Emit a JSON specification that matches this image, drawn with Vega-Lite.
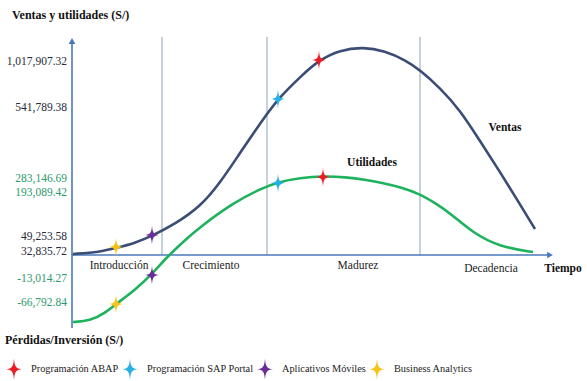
{
  "$schema": "https://vega.github.io/schema/vega-lite/v6.json",
  "width": 488,
  "height": 300,
  "autosize": {"type": "none"},
  "padding": {"left": 72, "top": 30, "right": 27, "bottom": 51},
  "background": "white",
  "config": {
    "view": {"stroke": null},
    "axis": {"disable": true},
    "font": "Liberation Serif",
    "text": {"font": "Liberation Serif"}
  },
  "datasets": {
    "curvas": [
      {"serie": "Ventas", "t": 1, "nivel": 1},
      {"serie": "Ventas", "t": 28, "nivel": 3},
      {"serie": "Ventas", "t": 44, "nivel": 7},
      {"serie": "Ventas", "t": 63, "nivel": 12},
      {"serie": "Ventas", "t": 80, "nivel": 19},
      {"serie": "Ventas", "t": 103, "nivel": 31},
      {"serie": "Ventas", "t": 128, "nivel": 48},
      {"serie": "Ventas", "t": 148, "nivel": 72},
      {"serie": "Ventas", "t": 168, "nivel": 102},
      {"serie": "Ventas", "t": 183, "nivel": 124},
      {"serie": "Ventas", "t": 195, "nivel": 141},
      {"serie": "Ventas", "t": 206, "nivel": 156},
      {"serie": "Ventas", "t": 228, "nivel": 178},
      {"serie": "Ventas", "t": 247, "nivel": 195},
      {"serie": "Ventas", "t": 268, "nivel": 205},
      {"serie": "Ventas", "t": 291, "nivel": 208},
      {"serie": "Ventas", "t": 313, "nivel": 204},
      {"serie": "Ventas", "t": 333, "nivel": 195},
      {"serie": "Ventas", "t": 348, "nivel": 185},
      {"serie": "Ventas", "t": 368, "nivel": 167},
      {"serie": "Ventas", "t": 388, "nivel": 145},
      {"serie": "Ventas", "t": 408, "nivel": 114},
      {"serie": "Ventas", "t": 428, "nivel": 83},
      {"serie": "Ventas", "t": 446, "nivel": 54},
      {"serie": "Ventas", "t": 463, "nivel": 26},
      {"serie": "Utilidades", "t": 1, "nivel": -67},
      {"serie": "Utilidades", "t": 18, "nivel": -66},
      {"serie": "Utilidades", "t": 33, "nivel": -58},
      {"serie": "Utilidades", "t": 44, "nivel": -49},
      {"serie": "Utilidades", "t": 63, "nivel": -35},
      {"serie": "Utilidades", "t": 80, "nivel": -19},
      {"serie": "Utilidades", "t": 95, "nivel": -2},
      {"serie": "Utilidades", "t": 113, "nivel": 15},
      {"serie": "Utilidades", "t": 128, "nivel": 28},
      {"serie": "Utilidades", "t": 161, "nivel": 52},
      {"serie": "Utilidades", "t": 188, "nivel": 66},
      {"serie": "Utilidades", "t": 206, "nivel": 73},
      {"serie": "Utilidades", "t": 228, "nivel": 77},
      {"serie": "Utilidades", "t": 251, "nivel": 79},
      {"serie": "Utilidades", "t": 273, "nivel": 78},
      {"serie": "Utilidades", "t": 295, "nivel": 75},
      {"serie": "Utilidades", "t": 311, "nivel": 72},
      {"serie": "Utilidades", "t": 328, "nivel": 68},
      {"serie": "Utilidades", "t": 348, "nivel": 61},
      {"serie": "Utilidades", "t": 363, "nivel": 52},
      {"serie": "Utilidades", "t": 378, "nivel": 42},
      {"serie": "Utilidades", "t": 401, "nivel": 22},
      {"serie": "Utilidades", "t": 428, "nivel": 8},
      {"serie": "Utilidades", "t": 461, "nivel": 3}
    ],
    "hitos": [
      {"producto": "Programación ABAP", "serie": "Ventas", "t": 247, "nivel": 195},
      {"producto": "Programación ABAP", "serie": "Utilidades", "t": 251, "nivel": 78},
      {"producto": "Programación SAP Portal", "serie": "Ventas", "t": 206, "nivel": 156},
      {"producto": "Programación SAP Portal", "serie": "Utilidades", "t": 206, "nivel": 72},
      {"producto": "Aplicativos Móviles", "serie": "Ventas", "t": 80, "nivel": 20},
      {"producto": "Aplicativos Móviles", "serie": "Utilidades", "t": 80, "nivel": -20},
      {"producto": "Business Analytics", "serie": "Ventas", "t": 44, "nivel": 8},
      {"producto": "Business Analytics", "serie": "Utilidades", "t": 44, "nivel": -49}
    ],
    "limites": [
      {"limite": "Introducción/Crecimiento", "t": 90, "desde": 0, "hasta": 218},
      {"limite": "Crecimiento/Madurez", "t": 195, "desde": 0, "hasta": 218},
      {"limite": "Madurez/Decadencia", "t": 348, "desde": 0, "hasta": 218}
    ],
    "fases": [
      {"fase": "Introducción", "t": 47, "nivel": -11},
      {"fase": "Crecimiento", "t": 139, "nivel": -11},
      {"fase": "Madurez", "t": 286, "nivel": -11},
      {"fase": "Decadencia", "t": 419, "nivel": -14}
    ],
    "ejes": [
      {"eje": "x", "t0": 0, "t1": 476, "n0": 0, "n1": 0},
      {"eje": "y", "t0": 0, "t1": 0, "n0": -73, "n1": 212}
    ],
    "flechas": [
      {"eje": "x", "t": 478, "nivel": 0},
      {"eje": "y", "t": 0, "nivel": 214}
    ],
    "etiquetasY": [
      {"etiqueta": "1,017,907.32", "nivel": 193, "tipo": "Ventas"},
      {"etiqueta": "541,789.38", "nivel": 147, "tipo": "Ventas"},
      {"etiqueta": "283,146.69", "nivel": 76, "tipo": "Utilidades"},
      {"etiqueta": "193,089.42", "nivel": 62, "tipo": "Utilidades"},
      {"etiqueta": "49,253.58", "nivel": 18, "tipo": "Ventas"},
      {"etiqueta": "32,835.72", "nivel": 3, "tipo": "Ventas"},
      {"etiqueta": "-13,014.27", "nivel": -24, "tipo": "Utilidades"},
      {"etiqueta": "-66,792.84", "nivel": -48, "tipo": "Utilidades"}
    ],
    "rotulos": [
      {"texto": "Ventas", "t": 433, "nivel": 127},
      {"texto": "Utilidades", "t": 300, "nivel": 92},
      {"texto": "Tiempo", "t": 491, "nivel": -14}
    ],
    "titulos": [
      {"texto": "Ventas y utilidades (S/)", "t": -60, "nivel": 240},
      {"texto": "Pérdidas/Inversión (S/)", "t": -67, "nivel": -85}
    ]
  },
  "layer": [
    {
      "data": {"name": "limites"},
      "mark": {"type": "rule", "color": "#8da2b8", "strokeWidth": 1},
      "encoding": {
        "x": {"field": "t", "type": "quantitative", "scale": {"domain": [0, 488], "nice": false, "zero": false}},
        "y": {"field": "desde", "type": "quantitative", "scale": {"domain": [-75, 225], "nice": false, "zero": false}},
        "y2": {"field": "hasta"}
      }
    },
    {
      "data": {"name": "ejes"},
      "mark": {"type": "rule", "color": "#4a78bd", "strokeWidth": 1.6},
      "encoding": {
        "x": {"field": "t0", "type": "quantitative"},
        "x2": {"field": "t1"},
        "y": {"field": "n0", "type": "quantitative"},
        "y2": {"field": "n1"}
      }
    },
    {
      "data": {"name": "flechas"},
      "transform": [{"filter": "datum.eje === 'x'"}],
      "mark": {"type": "point", "shape": "triangle-right", "filled": true, "size": 45, "color": "#4a78bd", "opacity": 1},
      "encoding": {
        "x": {"field": "t", "type": "quantitative"},
        "y": {"field": "nivel", "type": "quantitative"}
      }
    },
    {
      "data": {"name": "flechas"},
      "transform": [{"filter": "datum.eje === 'y'"}],
      "mark": {"type": "point", "shape": "triangle-up", "filled": true, "size": 45, "color": "#4a78bd", "opacity": 1},
      "encoding": {
        "x": {"field": "t", "type": "quantitative"},
        "y": {"field": "nivel", "type": "quantitative"}
      }
    },
    {
      "data": {"name": "curvas"},
      "mark": {"type": "line", "interpolate": "basis", "strokeWidth": 2.6},
      "encoding": {
        "x": {"field": "t", "type": "quantitative"},
        "y": {"field": "nivel", "type": "quantitative"},
        "detail": {"field": "serie"},
        "color": {"condition": {"test": "datum.serie === 'Ventas'", "value": "#3b4d76"}, "value": "#1db25c"}
      }
    },
    {
      "data": {"name": "hitos"},
      "mark": {"type": "point", "shape": "M0,-1.2 C0.07,-0.3 0.2,-0.08 0.9,0 C0.2,0.08 0.07,0.3 0,1.2 C-0.07,0.3 -0.2,0.08 -0.9,0 C-0.2,-0.08 -0.07,-0.3 0,-1.2 Z", "filled": true, "size": 256, "opacity": 1},
      "encoding": {
        "x": {"field": "t", "type": "quantitative"},
        "y": {"field": "nivel", "type": "quantitative"},
        "color": {
          "field": "producto",
          "type": "nominal",
          "scale": {
            "domain": ["Programación ABAP", "Programación SAP Portal", "Aplicativos Móviles", "Business Analytics"],
            "range": ["#ec1c24", "#27b0e3", "#6a2c96", "#f6c417"]
          },
          "legend": {
            "orient": "none",
            "legendX": -67,
            "legendY": 330,
            "direction": "horizontal",
            "columns": 4,
            "title": null,
            "symbolType": "M0,-1.2 C0.07,-0.3 0.2,-0.08 0.9,0 C0.2,0.08 0.07,0.3 0,1.2 C-0.07,0.3 -0.2,0.08 -0.9,0 C-0.2,-0.08 -0.07,-0.3 0,-1.2 Z",
            "symbolSize": 320,
            "symbolOpacity": 1,
            "symbolStrokeWidth": 0,
            "labelFont": "Liberation Serif",
            "labelFontSize": 10.3,
            "labelColor": "#222222",
            "labelOffset": 8,
            "columnPadding": 2
          }
        }
      }
    },
    {
      "data": {"name": "etiquetasY"},
      "mark": {"type": "text", "align": "right", "baseline": "middle", "dx": -5, "fontSize": 11.5, "font": "Liberation Serif"},
      "encoding": {
        "x": {"datum": 0, "type": "quantitative"},
        "y": {"field": "nivel", "type": "quantitative"},
        "text": {"field": "etiqueta"},
        "color": {"condition": {"test": "datum.tipo === 'Utilidades'", "value": "#2b9a6a"}, "value": "#262b3a"}
      }
    },
    {
      "data": {"name": "fases"},
      "mark": {"type": "text", "align": "center", "baseline": "middle", "fontSize": 11.5, "font": "Liberation Serif", "color": "#222222"},
      "encoding": {
        "x": {"field": "t", "type": "quantitative"},
        "y": {"field": "nivel", "type": "quantitative"},
        "text": {"field": "fase"}
      }
    },
    {
      "data": {"name": "rotulos"},
      "mark": {"type": "text", "align": "center", "baseline": "middle", "fontSize": 11.5, "fontWeight": "bold", "font": "Liberation Serif", "color": "#111111"},
      "encoding": {
        "x": {"field": "t", "type": "quantitative"},
        "y": {"field": "nivel", "type": "quantitative"},
        "text": {"field": "texto"}
      }
    },
    {
      "data": {"name": "titulos"},
      "mark": {"type": "text", "align": "left", "baseline": "middle", "fontSize": 12, "fontWeight": "bold", "font": "Liberation Serif", "color": "#111111"},
      "encoding": {
        "x": {"field": "t", "type": "quantitative"},
        "y": {"field": "nivel", "type": "quantitative"},
        "text": {"field": "texto"}
      }
    }
  ]
}
